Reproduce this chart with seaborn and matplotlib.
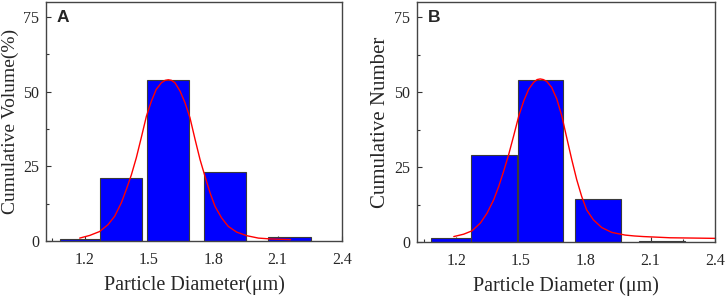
import numpy as np
import pandas as pd
import matplotlib
matplotlib.use("Agg")
import matplotlib.pyplot as plt
import seaborn as sns
from matplotlib.ticker import MultipleLocator

# panel A - volume distribution
a_centers = [1.178, 1.370, 1.590, 1.855, 2.154]
a_widths = [0.187, 0.196, 0.197, 0.194, 0.200]
a_values = [0.7, 21.1, 53.9, 23.0, 1.5]
a_fit_x = [1.177, 1.224, 1.270, 1.309, 1.340, 1.371, 1.394, 1.418, 1.441, 1.464,
           1.488, 1.511, 1.534, 1.558, 1.575, 1.590, 1.605, 1.621, 1.645, 1.668,
           1.691, 1.715, 1.738, 1.761, 1.785, 1.808, 1.839, 1.870, 1.909, 1.956,
           2.010, 2.070, 2.160]
a_fit_y = [1.0, 1.9, 3.2, 5.5, 8.3, 12.8, 17.2, 22.2, 27.9, 34.6,
           41.8, 46.8, 50.8, 53.0, 53.8, 54.0, 53.8, 53.0, 50.2, 46.3,
           41.3, 34.0, 27.3, 21.7, 16.1, 11.6, 7.7, 4.9, 3.0, 1.8,
           1.0, 0.7, 0.5]

# panel B - number distribution
b_centers = [1.175, 1.374, 1.591, 1.856, 2.153]
b_widths = [0.187, 0.211, 0.210, 0.212, 0.213]
b_values = [1.4, 29.0, 54.1, 14.4, 0.5]
b_fit_x = [1.189, 1.235, 1.273, 1.312, 1.343, 1.374, 1.397, 1.420, 1.443, 1.466,
           1.490, 1.513, 1.536, 1.559, 1.575, 1.589, 1.603, 1.619, 1.642, 1.666,
           1.689, 1.712, 1.735, 1.758, 1.781, 1.804, 1.835, 1.874, 1.920, 1.982,
           2.025, 2.067, 2.130, 2.190, 2.300, 2.400]
b_fit_y = [1.9, 2.7, 3.8, 6.4, 9.7, 14.2, 18.6, 23.7, 29.2, 35.4,
           42.1, 47.1, 51.0, 53.3, 54.2, 54.4, 54.2, 53.6, 51.6, 47.7,
           42.1, 34.8, 27.6, 20.9, 15.3, 10.8, 7.5, 4.9, 3.3, 2.4,
           2.1, 1.9, 1.7, 1.5, 1.4, 1.3]

x_ticks = [1.2, 1.5, 1.8, 2.1, 2.4]
y_ticks = [0, 25, 50, 75]

sns.set_style("ticks")
plt.rcParams['font.family'] = ['Liberation Serif', 'DejaVu Serif']

fig = plt.figure(figsize=(7.26, 2.98), dpi=100)
ax1 = fig.add_axes([0.0634, 0.191, 0.4077, 0.802])
ax2 = fig.add_axes([0.5748, 0.187, 0.4105, 0.806])

panels = [
    (ax1, a_centers, a_widths, a_values, a_fit_x, a_fit_y, "A",
     "Cumulative Volume(%)", "Particle Diameter(\u03bcm)", 14),
    (ax2, b_centers, b_widths, b_values, b_fit_x, b_fit_y, "B",
     "Cumulative Number", "Particle Diameter (\u03bcm)", 15),
]

for ax, cen, wid, val, fx, fy, tag, ylab, xlab, ysize in panels:
    df = pd.DataFrame({"d": cen, "v": val})
    sns.barplot(data=df, x="d", y="v", native_scale=True, errorbar=None,
                color="#0000FF", saturation=1, edgecolor="#3a3a3a",
                linewidth=0.8, ax=ax)
    # exact bin widths
    for p, c, w in zip(ax.patches, cen, wid):
        p.set_x(c - w / 2)
        p.set_width(w)
    fit = pd.DataFrame({"x": fx, "y": fy})
    sns.lineplot(data=fit, x="x", y="y", color="red", linewidth=1.0, ax=ax)

    ax.set_xlim(1.02, 2.4)
    ax.set_ylim(0, 80)
    ax.set_xticks(x_ticks)
    ax.set_xticklabels([f"{t:.1f}" for t in x_ticks])
    ax.set_yticks(y_ticks)
    ax.xaxis.set_minor_locator(MultipleLocator(0.15))
    ax.yaxis.set_minor_locator(MultipleLocator(12.5))
    ax.tick_params(which="both", direction="in", color="#333333",
                   labelsize=11.5, width=0.8)
    ax.tick_params(which="major", length=3.5)
    ax.tick_params(which="minor", length=2)
    ax.tick_params(axis="x", which="major", pad=8)
    ax.tick_params(axis="y", which="major", pad=5)
    for s in ax.spines.values():
        s.set_visible(True)
        s.set_color("#444444")
        s.set_linewidth(1.0)
    ax.set_xlabel(xlab, fontsize=14.5, labelpad=5)
    ax.set_ylabel(ylab, fontsize=ysize, labelpad=3)
    ax.text(0.036, 0.965, tag, transform=ax.transAxes, ha="left", va="top",
            fontsize=12.5, fontweight="bold", family=["Liberation Sans"])

fig.savefig("out.png", dpi=100)
